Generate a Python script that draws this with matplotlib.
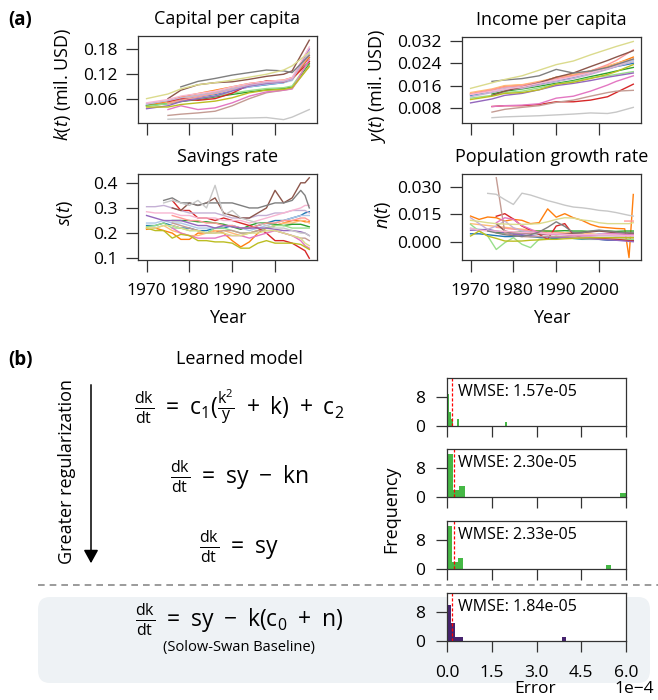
import numpy as np
import matplotlib
matplotlib.use("Agg")
import matplotlib.pyplot as plt
from matplotlib.patches import FancyBboxPatch, FancyArrowPatch
from matplotlib.lines import Line2D
from matplotlib.ticker import FuncFormatter

plt.rcParams['font.family'] = ['Open Sans', 'DejaVu Sans']
plt.rcParams['mathtext.fontset'] = 'custom'
plt.rcParams['mathtext.rm'] = 'Open Sans'
plt.rcParams['mathtext.it'] = 'Open Sans:italic'
plt.rcParams['mathtext.bf'] = 'Open Sans:bold'
plt.rcParams['mathtext.default'] = 'regular'
plt.rcParams['mathtext.fallback'] = 'stixsans'

nan = float('nan')

# ---- panel (a) data: 18 countries, tab20 colours in order ----
years_ky = [1970, 1975, 1978, 1982, 1986, 1990, 1994, 1998, 2002, 2004, 2008]
years_sn = [1970, 1972, 1974, 1976, 1978, 1980, 1982, 1984, 1986, 1988, 1990,
            1992, 1994, 1996, 1998, 2000, 2002, 2004, 2006, 2007, 2008]

capital = [
    [0.046, 0.052, 0.060, 0.066, 0.072, 0.082, 0.090, 0.095, 0.100, 0.108, 0.160],
    [0.048, 0.055, 0.063, 0.068, 0.074, 0.082, 0.090, 0.096, 0.100, 0.105, 0.170],
    [0.045, 0.055, 0.066, 0.074, 0.082, 0.090, 0.098, 0.103, 0.106, 0.112, 0.160],
    [0.044, 0.052, 0.062, 0.070, 0.078, 0.086, 0.094, 0.099, 0.102, 0.108, 0.150],
    [0.045, 0.050, 0.055, 0.060, 0.066, 0.072, 0.078, 0.083, 0.086, 0.090, 0.145],
    [0.044, 0.050, 0.057, 0.062, 0.068, 0.075, 0.081, 0.086, 0.088, 0.092, 0.150],
    [nan, 0.055, 0.062, 0.058, 0.062, 0.075, 0.095, 0.104, 0.102, 0.110, 0.150],
    [nan, 0.050, 0.058, 0.066, 0.074, 0.085, 0.094, 0.100, 0.104, 0.110, 0.165],
    [0.038, 0.045, 0.055, 0.062, 0.068, 0.080, 0.092, 0.098, 0.102, 0.108, 0.180],
    [0.050, 0.057, 0.064, 0.070, 0.076, 0.086, 0.094, 0.100, 0.103, 0.108, 0.175],
    [nan, 0.062, 0.082, 0.095, 0.100, 0.102, 0.108, 0.115, 0.120, 0.128, 0.201],
    [nan, 0.022, 0.025, 0.028, 0.032, 0.045, 0.062, 0.076, 0.082, 0.086, 0.140],
    [nan, 0.036, 0.045, 0.036, 0.040, 0.052, 0.068, 0.078, 0.082, 0.085, 0.155],
    [0.052, 0.060, 0.068, 0.074, 0.080, 0.090, 0.098, 0.103, 0.106, 0.112, 0.185],
    [nan, nan, 0.090, 0.103, 0.110, 0.118, 0.124, 0.130, 0.128, 0.124, 0.165],
    [nan, 0.013, 0.014, 0.014, 0.015, 0.015, 0.016, 0.017, 0.012, 0.018, 0.036],
    [0.042, 0.042, 0.048, 0.052, 0.056, 0.064, 0.076, 0.082, 0.084, 0.088, 0.138],
    [0.062, 0.073, 0.085, 0.095, 0.100, 0.106, 0.113, 0.120, 0.130, 0.140, 0.172],
]

income = [
    [0.0125, 0.0140, 0.0150, 0.0155, 0.0165, 0.0175, 0.0190, 0.0205, 0.0220, 0.0228, 0.0240],
    [0.0128, 0.0142, 0.0152, 0.0158, 0.0168, 0.0180, 0.0192, 0.0208, 0.0225, 0.0232, 0.0250],
    [0.0130, 0.0145, 0.0158, 0.0162, 0.0170, 0.0190, 0.0198, 0.0212, 0.0228, 0.0238, 0.0262],
    [0.0135, 0.0148, 0.0160, 0.0163, 0.0175, 0.0188, 0.0200, 0.0213, 0.0230, 0.0240, 0.0255],
    [nan, 0.0130, 0.0140, 0.0148, 0.0158, 0.0168, 0.0178, 0.0192, 0.0205, 0.0212, 0.0225],
    [0.0115, 0.0125, 0.0135, 0.0140, 0.0152, 0.0165, 0.0175, 0.0188, 0.0195, 0.0200, 0.0210],
    [nan, 0.0085, 0.0088, 0.0088, 0.0092, 0.0102, 0.0102, 0.0108, 0.0120, 0.0135, 0.0165],
    [0.0130, 0.0145, 0.0155, 0.0160, 0.0172, 0.0185, 0.0195, 0.0212, 0.0235, 0.0250, 0.0288],
    [0.0098, 0.0112, 0.0125, 0.0132, 0.0145, 0.0160, 0.0168, 0.0178, 0.0190, 0.0195, 0.0205],
    [0.0120, 0.0135, 0.0145, 0.0150, 0.0162, 0.0175, 0.0185, 0.0200, 0.0218, 0.0228, 0.0245],
    [nan, 0.0125, 0.0140, 0.0155, 0.0170, 0.0190, 0.0205, 0.0228, 0.0250, 0.0262, 0.0285],
    [nan, 0.0065, 0.0075, 0.0082, 0.0088, 0.0100, 0.0108, 0.0122, 0.0135, 0.0140, 0.0143],
    [nan, 0.0085, 0.0088, 0.0090, 0.0095, 0.0115, 0.0122, 0.0140, 0.0162, 0.0175, 0.0195],
    [0.0128, 0.0140, 0.0148, 0.0155, 0.0168, 0.0180, 0.0192, 0.0205, 0.0222, 0.0232, 0.0255],
    [nan, 0.0175, 0.0180, 0.0185, 0.0195, 0.0218, 0.0205, 0.0212, 0.0225, 0.0235, 0.0255],
    [nan, 0.0045, 0.0048, 0.0050, 0.0052, 0.0055, 0.0058, 0.0062, 0.0060, 0.0065, 0.0082],
    [0.0110, 0.0122, 0.0132, 0.0135, 0.0145, 0.0165, 0.0172, 0.0185, 0.0200, 0.0210, 0.0235],
    [0.0150, 0.0170, 0.0182, 0.0195, 0.0215, 0.0235, 0.0248, 0.0270, 0.0290, 0.0300, 0.0318],
]

savings = [
    [0.23, 0.23, 0.24, 0.23, 0.22, 0.22, 0.21, 0.21, 0.22, 0.22, 0.23, 0.22, 0.22, 0.23, 0.24, 0.25, 0.25, 0.26, 0.27, 0.28, 0.285],
    [0.24, 0.24, 0.25, 0.24, 0.24, 0.23, 0.22, 0.22, 0.22, 0.23, 0.23, 0.22, 0.21, 0.22, 0.23, 0.24, 0.25, 0.26, 0.27, 0.27, 0.27],
    [0.215, 0.22, 0.21, 0.20, 0.175, 0.175, 0.20, 0.20, 0.21, 0.20, 0.17, 0.145, 0.165, 0.20, 0.22, 0.23, 0.24, 0.25, 0.25, 0.245, 0.245],
    [0.22, 0.22, 0.23, 0.21, 0.20, 0.19, 0.19, 0.20, 0.21, 0.21, 0.20, 0.19, 0.20, 0.21, 0.22, 0.23, 0.24, 0.24, 0.25, 0.25, 0.24],
    [nan, nan, nan, 0.25, 0.25, 0.25, 0.245, 0.245, 0.24, 0.235, 0.225, 0.215, 0.23, 0.24, 0.24, 0.235, 0.23, 0.235, 0.235, 0.23, 0.225],
    [0.225, 0.23, 0.24, 0.22, 0.22, 0.21, 0.21, 0.20, 0.22, 0.22, 0.21, 0.20, 0.20, 0.21, 0.22, 0.23, 0.23, 0.22, 0.22, 0.22, 0.22],
    [nan, nan, nan, 0.33, 0.29, 0.29, 0.26, 0.26, 0.25, 0.26, 0.25, 0.24, 0.23, 0.22, 0.20, 0.17, 0.17, 0.16, 0.14, 0.13, 0.10],
    [nan, nan, nan, 0.27, 0.26, 0.25, 0.25, 0.24, 0.24, 0.23, 0.23, 0.22, 0.22, 0.23, 0.24, 0.24, 0.25, 0.25, 0.26, 0.26, 0.25],
    [0.27, 0.26, 0.25, 0.25, 0.25, 0.24, 0.23, 0.23, 0.22, 0.23, 0.225, 0.22, 0.22, 0.22, 0.22, 0.215, 0.21, 0.21, 0.205, 0.20, 0.19],
    [0.305, 0.305, 0.31, 0.30, 0.29, 0.28, 0.28, 0.28, 0.28, 0.27, 0.26, 0.26, 0.26, 0.27, 0.27, 0.28, 0.28, 0.29, 0.29, 0.29, 0.28],
    [nan, nan, nan, 0.30, 0.29, 0.32, 0.31, 0.32, 0.34, 0.28, 0.27, 0.26, 0.26, 0.28, 0.30, 0.37, 0.32, 0.34, 0.40, 0.40, 0.42],
    [nan, nan, nan, 0.24, 0.23, 0.22, 0.21, 0.20, 0.20, 0.21, 0.21, 0.20, 0.20, 0.21, 0.21, 0.21, 0.20, 0.19, 0.18, 0.18, 0.17],
    [nan, nan, nan, 0.22, 0.20, 0.19, 0.18, 0.18, 0.18, 0.19, 0.19, 0.19, 0.18, 0.19, 0.20, 0.21, 0.20, 0.19, 0.17, 0.15, 0.14],
    [0.285, 0.28, 0.28, 0.28, 0.27, 0.27, 0.26, 0.26, 0.26, 0.25, 0.25, 0.25, 0.24, 0.25, 0.26, 0.27, 0.28, 0.29, 0.30, 0.31, 0.31],
    [nan, nan, 0.33, 0.34, 0.32, 0.32, 0.31, 0.32, 0.32, 0.32, 0.32, 0.31, 0.30, 0.30, 0.31, 0.32, 0.32, 0.33, 0.37, 0.35, 0.30],
    [nan, nan, 0.32, 0.33, 0.32, 0.31, 0.33, 0.30, 0.39, 0.27, 0.29, 0.26, 0.25, 0.24, 0.23, 0.22, 0.22, 0.21, 0.20, 0.20, 0.19],
    [0.22, 0.21, 0.21, 0.18, 0.195, 0.19, 0.17, 0.17, 0.165, 0.165, 0.16, 0.14, 0.14, 0.16, 0.17, 0.16, 0.16, 0.16, 0.155, 0.145, 0.135],
    [0.22, 0.22, 0.23, 0.23, 0.22, 0.21, 0.21, 0.20, 0.20, 0.20, 0.19, 0.19, 0.20, 0.20, 0.21, 0.21, 0.20, 0.19, 0.18, 0.16, 0.15],
]

pop_growth = [
    [0.0045, 0.0045, 0.0040, 0.0035, 0.0030, 0.0030, 0.0035, 0.0030, 0.0025, 0.0020, 0.0020, 0.0025, 0.0020, 0.0015, 0.0015, 0.0015, 0.0010, 0.0010, 0.0010, 0.0010, 0.0010],
    [0.0075, 0.0070, 0.0065, 0.0060, 0.0055, 0.0050, 0.0050, 0.0045, 0.0045, 0.0040, 0.0045, 0.0045, 0.0040, 0.0040, 0.0040, 0.0045, 0.0040, 0.0040, 0.0040, 0.0040, 0.0040],
    [0.0141, 0.0123, 0.0136, 0.0132, 0.0114, 0.0123, 0.0118, 0.0100, 0.0105, 0.0180, 0.0135, 0.0154, 0.0132, 0.0118, 0.0096, 0.0082, 0.0078, 0.0074, 0.0072, -0.0084, 0.0258],
    [0.0100, 0.0095, 0.0090, 0.0085, 0.0080, 0.0075, 0.0070, 0.0065, 0.0060, 0.0060, 0.0055, 0.0050, 0.0050, 0.0045, 0.0045, 0.0040, 0.0040, 0.0035, 0.0035, 0.0035, 0.0035],
    [nan, nan, nan, 0.0051, 0.0050, 0.0052, 0.0055, 0.0058, 0.0060, 0.0060, 0.0060, 0.0062, 0.0060, 0.0060, 0.0058, 0.0062, 0.0060, 0.0058, 0.0060, 0.0060, 0.0060],
    [0.0096, 0.0060, 0.0033, -0.0040, -0.0003, 0.0024, -0.0012, -0.0030, 0.0015, 0.0020, 0.0033, 0.0025, 0.0020, 0.0018, 0.0015, 0.0015, 0.0015, 0.0015, 0.0015, 0.0015, 0.0015],
    [nan, nan, nan, 0.0140, 0.0154, 0.0125, 0.0087, 0.0065, 0.0042, 0.0015, 0.0087, 0.0100, 0.0040, 0.0024, 0.0022, 0.0020, 0.0018, 0.0015, 0.0010, 0.0008, 0.0006],
    [nan, nan, nan, 0.0080, 0.0075, 0.0070, 0.0065, 0.0060, 0.0055, 0.0050, 0.0050, 0.0045, 0.0045, 0.0040, 0.0040, 0.0040, 0.0040, nan, 0.0114, 0.0114, 0.0114],
    [0.0064, 0.0066, 0.0069, 0.0060, 0.0051, 0.0042, 0.0040, 0.0035, 0.0030, 0.0028, 0.0026, 0.0025, 0.0022, 0.0020, 0.0018, 0.0015, 0.0012, 0.0010, 0.0006, 0.0004, 0.0002],
    [0.0132, 0.0100, 0.0069, 0.0087, 0.0114, 0.0078, 0.0060, 0.0055, 0.0050, 0.0042, 0.0042, 0.0040, 0.0035, 0.0033, 0.0033, 0.0035, 0.0035, 0.0033, 0.0033, 0.0033, 0.0033],
    [nan, nan, nan, 0.0100, 0.0060, 0.0051, 0.0050, 0.0048, 0.0045, 0.0042, 0.0042, 0.0045, 0.0048, 0.0052, 0.0055, 0.0060, 0.0055, 0.0050, 0.0050, 0.0048, 0.0048],
    [nan, nan, nan, 0.0349, 0.0051, 0.0035, 0.0030, 0.0028, 0.0030, 0.0032, 0.0030, 0.0030, 0.0028, 0.0026, 0.0026, 0.0025, 0.0025, 0.0024, 0.0024, 0.0024, 0.0024],
    [nan, nan, nan, 0.0105, 0.0132, 0.0123, 0.0090, 0.0070, 0.0050, 0.0042, 0.0042, 0.0040, 0.0036, 0.0035, 0.0036, 0.0042, 0.0045, 0.0045, 0.0042, 0.0040, 0.0040],
    [0.0075, 0.0065, 0.0060, 0.0060, 0.0058, 0.0055, 0.0052, 0.0050, 0.0050, 0.0045, 0.0045, 0.0043, 0.0040, 0.0040, 0.0040, 0.0040, 0.0040, 0.0038, 0.0035, 0.0035, 0.0035],
    [nan, nan, 0.0060, 0.0050, 0.0040, 0.0035, 0.0030, 0.0040, 0.0055, 0.0080, 0.0110, 0.0085, 0.0050, 0.0050, 0.0060, 0.0065, 0.0060, 0.0055, 0.0050, 0.0050, 0.0050],
    [nan, nan, 0.0264, 0.0259, 0.0230, 0.0204, 0.0265, 0.0255, 0.0240, 0.0225, 0.0213, 0.0200, 0.0190, 0.0186, 0.0180, 0.0172, 0.0168, 0.0160, 0.0150, 0.0145, 0.0141],
    [0.0033, 0.0060, 0.0033, 0.0020, 0.0006, 0.0005, 0.0006, 0.0010, 0.0012, 0.0015, 0.0015, 0.0018, 0.0020, 0.0022, 0.0024, 0.0024, 0.0024, 0.0024, 0.0024, 0.0024, 0.0024],
    [0.0118, 0.0112, 0.0105, 0.0100, 0.0098, 0.0096, 0.0096, 0.0098, 0.0100, 0.0110, 0.0123, 0.0132, 0.0130, 0.0120, 0.0115, 0.0105, 0.0100, 0.0100, 0.0100, 0.0100, 0.0105],
]

# ---- panel (b) data ----
equations = [
    r'$\frac{dk}{dt}\ =\ c_1(\frac{k^2}{y}\ +\ k)\ +\ c_2$',
    r'$\frac{dk}{dt}\ =\ sy\ -\ kn$',
    r'$\frac{dk}{dt}\ =\ sy$',
    r'$\frac{dk}{dt}\ =\ sy\ -\ k(c_0\ +\ n)$',
]
wmse = [1.57e-05, 2.30e-05, 2.33e-05, 1.84e-05]
err_max = [2.0e-4, 6.0e-4, 5.5e-4, 4.0e-4]   # histogram range, 30 bins each
hist_bins = [[0, 1, 2, 5, 29], [0, 1, 2, 29], [0, 1, 2, 29], [0, 1, 2, 3, 29]]
hist_counts = [[9, 4, 2, 2, 1], [12, 2, 3, 1], [12, 2, 3, 1], [10, 5, 1, 1, 1]]
hist_colors = ['#45b845', '#45b845', '#45b845', '#46236e']

W, H = 658, 700
fig = plt.figure(figsize=(W / 100, H / 100), dpi=100)


def rect(x0, y0, x1, y1):
    return [x0 / W, 1 - y1 / H, (x1 - x0) / W, (y1 - y0) / H]


def fxy(px, py):
    return px / W, 1 - py / H


def style(ax, length=8.5, pad=6.0):
    for s in ax.spines.values():
        s.set_color('#333333')
        s.set_linewidth(0.9)
    ax.tick_params(direction='out', length=length, width=0.9, color='#333333',
                   labelsize=12.5, pad=pad)


colors = plt.get_cmap('tab20').colors[:18]

ax_k = fig.add_axes(rect(138, 36, 317, 123))
ax_y = fig.add_axes(rect(462, 37, 641, 123))
ax_s = fig.add_axes(rect(138, 174, 317, 260))
ax_n = fig.add_axes(rect(462, 174, 641, 260))

panels = [
    (ax_k, years_ky, capital, 'Capital per capita', r'$\mathit{k(t)}$ (mil. USD)',
     [0.06, 0.12, 0.18], (0.004, 0.211), '{:.2f}', (-0.42, 0.44)),
    (ax_y, years_ky, income, 'Income per capita', r'$\mathit{y(t)}$ (mil. USD)',
     [0.008, 0.016, 0.024, 0.032], (0.0026, 0.0334), '{:.3f}', (-0.475, 0.43)),
    (ax_s, years_sn, savings, 'Savings rate', r'$\mathit{s(t)}$',
     [0.1, 0.2, 0.3, 0.4], (0.093, 0.435), '{:.1f}', (-0.41, 0.54)),
    (ax_n, years_sn, pop_growth, 'Population growth rate', r'$\mathit{n(t)}$',
     [0.0, 0.015, 0.030], (-0.0097, 0.0369), '{:.3f}', (-0.44, 0.52)),
]

for ax, yrs, series, title, ylab, yt, ylim, fmt, lab_xy in panels:
    for row, c in zip(series, colors):
        ax.plot(yrs, row, color=c, lw=1.0)
    ax.set_xlim(1968.0, 2009.8)
    ax.set_ylim(*ylim)
    ax.set_xticks([1970, 1980, 1990, 2000])
    ax.set_yticks(yt)
    ax.set_yticklabels([fmt.format(v) for v in yt])
    style(ax)
    ax.text(0.5, 1 + 17 / 87, title, transform=ax.transAxes, ha='center',
            va='center', fontsize=13)
    ax.set_ylabel(ylab, fontsize=13, va='center')
    ax.yaxis.set_label_coords(*lab_xy)

for ax in (ax_k, ax_y):
    ax.tick_params(labelbottom=False)
for ax in (ax_s, ax_n):
    ax.tick_params(axis='x', pad=8)
    ax.set_xlabel('Year', fontsize=13, va='center')
    ax.xaxis.set_label_coords(0.5, -59 / 87)

# ---- panel (b) ----
# shaded box for the baseline row, kept behind the axes
fig.patches.append(FancyBboxPatch(fxy(38, 683), 612 / W, 86 / H,
                                  boxstyle='round,pad=0,rounding_size=0.018',
                                  transform=fig.transFigure, facecolor='#eef2f5',
                                  edgecolor='none', zorder=-10))
fig.add_artist(Line2D([38 / W, 1.0], [fxy(0, 585)[1]] * 2, color='#8a8a8a',
                      lw=1.2, ls=(0, (4, 3))))
fig.add_artist(FancyArrowPatch(fxy(91, 382), fxy(91, 566), transform=fig.transFigure,
                               arrowstyle='-|>,head_length=4,head_width=2.2',
                               color='black', lw=1.1, mutation_scale=2))

fig.text(*fxy(8, 20), '(a)', fontsize=13.5, fontweight='bold', va='center')
fig.text(*fxy(8, 360), '(b)', fontsize=13.5, fontweight='bold', va='center')
fig.text(*fxy(239, 359), 'Learned model', fontsize=13, ha='center', va='center')
fig.text(*fxy(67, 472), 'Greater regularization', fontsize=13, rotation=90,
         ha='center', va='center')

eq_y = [407, 477, 547, 620]
for eq, py in zip(equations, eq_y):
    fig.text(*fxy(239, py), eq, fontsize=16.5, ha='center', va='center')
fig.text(*fxy(239, 647), '(Solow-Swan Baseline)', fontsize=10.5, ha='center', va='center')

hist_tops = [378, 449, 521, 593]
for i, top in enumerate(hist_tops):
    ax = fig.add_axes(rect(447, top, 626, top + 48))
    width = err_max[i] / 30
    lefts = [b * width for b in hist_bins[i]]
    ax.bar(lefts, hist_counts[i], width=width, align='edge',
           color=hist_colors[i], linewidth=0)
    ax.axvline(wmse[i], color='red', lw=0.9, ls=(0, (2.5, 1.5)))
    ax.set_xlim(0, 6e-4)
    ax.set_ylim(0, 13.4)
    ax.set_yticks([0, 8])
    ax.set_xticks([0, 1.5e-4, 3e-4, 4.5e-4, 6e-4])
    ax.xaxis.set_major_formatter(FuncFormatter(lambda v, p: '{:.1f}'.format(v * 1e4)))
    style(ax, length=8, pad=8)
    ax.tick_params(axis='x', pad=9)
    ax.set_facecolor('white')
    ax.text(0.061, 1 - 14 / 48, 'WMSE: {:.2e}'.format(wmse[i]), transform=ax.transAxes,
            ha='left', va='center', fontsize=11.5)
    if i < 3:
        ax.tick_params(labelbottom=False)

fig.text(*fxy(391, 509), 'Frequency', fontsize=13, rotation=90, ha='center', va='center')
fig.text(*fxy(535, 689), 'Error', fontsize=12.5, ha='center', va='center')
fig.text(*fxy(634, 689), '1e\u22124', fontsize=12.5, ha='center', va='center')

fig.savefig('out.png', dpi=100)
